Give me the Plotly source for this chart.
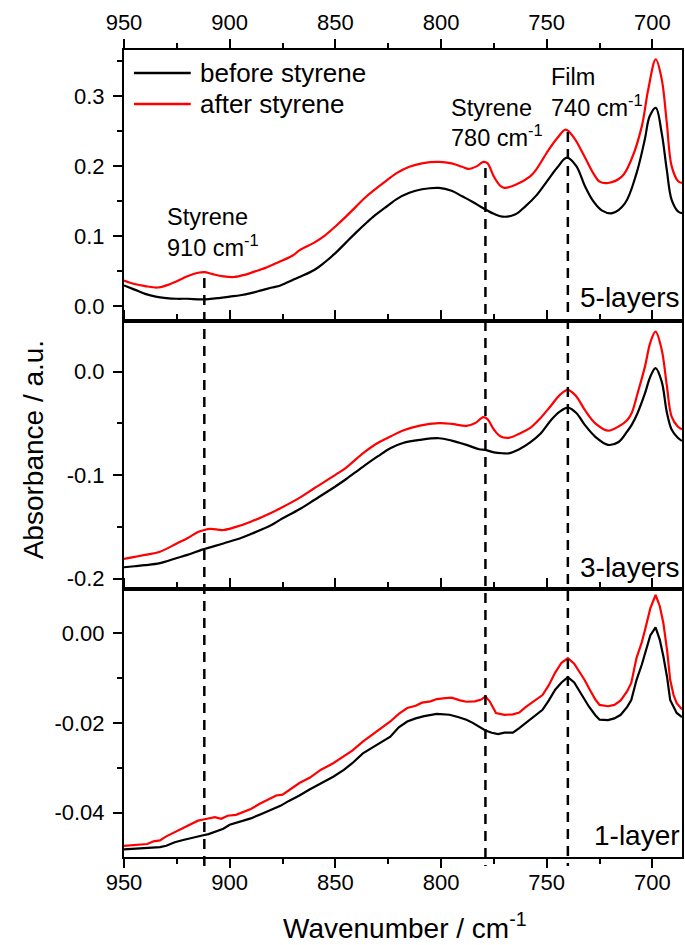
import plotly.graph_objects as go

FONT = "Liberation Sans, Arial, sans-serif"

# ---------------- data ----------------
# Panel: 5-layers
p5_before_wn = [950, 945, 940, 935, 930, 925, 920, 913, 905, 900, 895, 890, 885, 880, 876, 870, 867, 860, 855, 850,
                845, 840, 835, 832, 825, 821, 815, 809, 801, 795, 790, 785, 780, 775, 771, 765, 760, 755, 750, 745,
                740.5, 736, 732, 728, 724, 719, 713, 707.5, 703.6, 701.3, 698.4, 695.6, 693.2, 690.9, 687.7, 686]
p5_before_abs = [0.030, 0.024, 0.018, 0.014, 0.012, 0.011, 0.011, 0.010, 0.012, 0.014, 0.016, 0.019, 0.023, 0.027, 0.030,
                 0.038, 0.042, 0.052, 0.063, 0.076, 0.091, 0.106, 0.120, 0.128, 0.144, 0.153, 0.162, 0.167, 0.169, 0.165,
                 0.157, 0.149, 0.140, 0.132, 0.128, 0.131, 0.143, 0.158, 0.178, 0.198, 0.212, 0.200, 0.172, 0.150, 0.137,
                 0.133, 0.147, 0.190, 0.238, 0.271, 0.283, 0.247, 0.195, 0.152, 0.135, 0.133]
p5_after_wn = [950, 945, 940, 934, 930, 925, 920, 915, 912, 908, 903, 898, 893, 888, 883, 877, 870, 867, 860, 855, 850,
               845, 840, 836, 832, 826, 821, 815, 809, 801, 795, 790, 787, 783, 780, 778, 775, 772, 770, 765, 758, 755,
               750, 745, 741, 737, 732, 728, 725, 721, 714.5, 710, 705, 702, 698.4, 695.6, 693.2, 690.9, 687.7, 686]
p5_after_abs = [0.037, 0.032, 0.029, 0.027, 0.030, 0.036, 0.043, 0.048, 0.049, 0.046, 0.043, 0.042, 0.045, 0.050, 0.055,
                0.063, 0.073, 0.080, 0.091, 0.101, 0.114, 0.128, 0.143, 0.155, 0.165, 0.179, 0.190, 0.199, 0.204, 0.206,
                0.204, 0.199, 0.196, 0.200, 0.206, 0.204, 0.185, 0.172, 0.169, 0.173, 0.185, 0.195, 0.219, 0.240, 0.252,
                0.240, 0.213, 0.190, 0.178, 0.176, 0.185, 0.209, 0.257, 0.309, 0.352, 0.324, 0.262, 0.200, 0.178, 0.176]

# Panel: 3-layers
p3_before_wn = [950, 945, 940, 933, 925, 920, 913, 903, 895, 890, 880, 876, 867, 860, 850, 845, 837, 830, 824, 818,
                810, 801, 795, 788, 782, 779, 775, 771, 768, 763, 758, 753, 748, 744, 740, 736, 732, 727, 721, 716,
                712, 709.8, 707, 703.5, 701, 698.5, 695.6, 693.2, 690.9, 688, 686]
p3_before_abs = [-0.189, -0.188, -0.187, -0.185, -0.180, -0.177, -0.172, -0.166, -0.161, -0.157, -0.148, -0.143, -0.133,
                 -0.124, -0.111, -0.104, -0.092, -0.082, -0.074, -0.069, -0.066, -0.0644, -0.0667, -0.0708, -0.075,
                 -0.0757, -0.078, -0.0789, -0.079, -0.075, -0.0686, -0.060, -0.047, -0.039, -0.0348, -0.040, -0.0515,
                 -0.063, -0.0708, -0.068, -0.058, -0.0515, -0.040, -0.0209, -0.005, 0.0033, -0.0097, -0.039, -0.056,
                 -0.064, -0.067]
p3_after_wn = [950, 945, 940, 933, 925, 920, 915, 912, 909, 903, 897, 890, 880, 876, 867, 860, 850, 845, 837, 830, 824,
               818, 810, 801, 795, 788, 784, 780, 778, 775, 772, 768, 763, 758, 753, 748, 744, 740, 736, 732, 727, 721,
               716, 712, 709.8, 707, 703.5, 701, 698.5, 695.6, 693.2, 690.9, 688, 686]
p3_after_abs = [-0.181, -0.179, -0.177, -0.174, -0.166, -0.161, -0.155, -0.153, -0.152, -0.153, -0.150, -0.145, -0.136,
                -0.132, -0.122, -0.1127, -0.0998, -0.093, -0.079, -0.069, -0.0628, -0.057, -0.0522, -0.0499, -0.0505,
                -0.0525, -0.050, -0.044, -0.046, -0.056, -0.0625, -0.064, -0.060, -0.0547, -0.045, -0.033, -0.023,
                -0.0177, -0.024, -0.037, -0.050, -0.057, -0.053, -0.047, -0.040, -0.021, 0.005, 0.028, 0.0386, 0.021,
                -0.013, -0.0435, -0.053, -0.0557]

# Panel: 1-layer
p1_before_wn = [950, 945, 940, 937.7, 933, 930, 926, 922, 918, 913, 910, 906, 903, 900, 895, 890, 885, 880, 876, 872,
                867, 862, 857, 851, 846, 842, 837, 833, 828, 824, 820, 816, 812, 808, 802, 796, 792, 788, 785, 782, 779,
                776, 773, 770, 766, 763, 760, 756, 752, 749, 746, 743, 740, 737, 735, 732, 730, 727, 725, 721, 718, 715,
                712, 710, 707.5, 705, 703.5, 701, 698.5, 696.5, 694.8, 693, 691.6, 690, 688.5, 686]
p1_before_abs = [-0.0482, -0.0481, -0.0480, -0.0479, -0.0477, -0.0474, -0.0466, -0.0461, -0.0456, -0.0451, -0.0448,
                 -0.0442, -0.0436, -0.0427, -0.0420, -0.0413, -0.0403, -0.0392, -0.0385, -0.0374, -0.0362, -0.0348,
                 -0.0335, -0.0320, -0.0305, -0.0290, -0.0268, -0.0256, -0.0243, -0.0231, -0.0210, -0.0197, -0.0190,
                 -0.0185, -0.0180, -0.0182, -0.0187, -0.0193, -0.0200, -0.0208, -0.0217, -0.0222, -0.0225, -0.0222,
                 -0.0222, -0.0212, -0.0201, -0.0186, -0.0171, -0.0150, -0.0126, -0.0110, -0.0098, -0.0110, -0.0126,
                 -0.0148, -0.0164, -0.0183, -0.0193, -0.0194, -0.0190, -0.0182, -0.0165, -0.0149, -0.0104, -0.0070,
                 -0.0045, -0.0005, 0.0013, -0.0015, -0.0052, -0.0100, -0.0149, -0.0165, -0.0178, -0.0187]
p1_after_wn = [950, 946, 942, 939, 936, 933, 930, 926, 922, 918, 915, 913, 910, 907, 904, 901, 897, 893, 890, 886, 882,
               878, 875, 872, 867, 862, 857, 851, 846, 842, 837, 833, 828, 824, 820, 816, 812, 809, 805, 802, 798, 795,
               791, 788, 784, 781, 779, 777, 774, 770, 766, 763, 760, 756, 752, 749, 746, 743, 740, 737, 735, 732, 730,
               727, 725, 721, 718, 715, 712, 710, 707.5, 705, 703.5, 701, 698.5, 696.5, 694.8, 693, 691.6, 690, 688.5,
               686]
p1_after_abs = [-0.0474, -0.0473, -0.0472, -0.0470, -0.0464, -0.0462, -0.0453, -0.0444, -0.0435, -0.0426, -0.0418,
                -0.0416, -0.0413, -0.0410, -0.0414, -0.0407, -0.0405, -0.0398, -0.0392, -0.0381, -0.0372, -0.0362,
                -0.0360, -0.0350, -0.0334, -0.0322, -0.0305, -0.0290, -0.0275, -0.0262, -0.0242, -0.0228, -0.0212,
                -0.0197, -0.0180, -0.0167, -0.0162, -0.0155, -0.0152, -0.0147, -0.0145, -0.0144, -0.0150, -0.0153,
                -0.0152, -0.0148, -0.0141, -0.0152, -0.0178, -0.0182, -0.0181, -0.0177, -0.0165, -0.0152, -0.0138,
                -0.0116, -0.0088, -0.0066, -0.0056, -0.0068, -0.0082, -0.0105, -0.0123, -0.0148, -0.0160, -0.0163,
                -0.0160, -0.0150, -0.0130, -0.0111, -0.0055, -0.0020, 0.0007, 0.0055, 0.0085, 0.0060, 0.0022, -0.0040,
                -0.0104, -0.0138, -0.0156, -0.0170]

series_names = ["before styrene", "after styrene"]
panel_names = ["5-layers", "3-layers", "1-layer"]

x_tickvals = [950, 900, 850, 800, 750, 700]
x_ticktext = ["950", "900", "850", "800", "750", "700"]
y5_tickvals = [0.0, 0.1, 0.2, 0.3]
y5_ticktext = ["0.0", "0.1", "0.2", "0.3"]
y3_tickvals = [-0.2, -0.1, 0.0]
y3_ticktext = ["-0.2", "-0.1", "0.0"]
y1_tickvals = [-0.04, -0.02, 0.00]
y1_ticktext = ["-0.04", "-0.02", "0.00"]

band_wn = [912, 779, 740]
band_labels = [("Styrene", "910 cm<sup>-1</sup>"), ("Styrene", "780 cm<sup>-1</sup>"), ("Film", "740 cm<sup>-1</sup>")]

# ---------------- layout geometry ----------------
W, H = 685, 945
ML, MR, MT, MB = 124, 1, 50, 88
PW, PH = W - ML - MR, H - MT - MB


def px(xp):
    return (xp - ML) / PW


def py(yp):
    return (H - MB - yp) / PH


d3 = [0, py(588.7)]
d2 = [py(588.7), py(320.5)]
d1 = [py(320.5), 1]

colors = ["black", "#ff0000"]
LW = 2.2

fig = go.Figure()
panels = [
    ("x3", "y3", p5_before_wn, p5_before_abs, p5_after_wn, p5_after_abs, "spline"),
    ("x2", "y2", p3_before_wn, p3_before_abs, p3_after_wn, p3_after_abs, "spline"),
    ("x", "y", p1_before_wn, p1_before_abs, p1_after_wn, p1_after_abs, "linear"),
]
for xa, ya, bw, ba, aw, aa, shape in panels:
    for (wn, ab), name, col in zip([(bw, ba), (aw, aa)], series_names, colors):
        fig.add_trace(go.Scatter(x=wn, y=ab, mode="lines", name=name, showlegend=False,
                                 line=dict(color=col, width=LW, shape=shape, smoothing=1.0),
                                 xaxis=xa, yaxis=ya))

tickfont = dict(family=FONT, size=22, color="black")
xcommon = dict(range=[950, 686], tickmode="array", tickvals=x_tickvals, ticktext=x_ticktext,
               showline=True, linewidth=2, linecolor="black", ticks="outside", ticklen=9, tickwidth=2,
               tickcolor="black", showgrid=False, zeroline=False, tickfont=tickfont,
               minor=dict(dtick=25, tick0=0, ticks="outside", ticklen=5, tickwidth=2, tickcolor="black",
                          showgrid=False))
ycommon = dict(showline=True, linewidth=2, linecolor="black", ticks="outside", ticklen=9, tickwidth=2,
               tickcolor="black", showgrid=False, zeroline=False, tickfont=tickfont, mirror=True,
               tickmode="array", ticklabelstandoff=4)

fig.update_layout(
    width=W, height=H, margin=dict(l=ML, r=MR, t=MT, b=MB),
    paper_bgcolor="white", plot_bgcolor="white", showlegend=False,
    font=dict(family=FONT, color="black"),
    xaxis=dict(xcommon, anchor="y", side="bottom", mirror="ticks", ticklabelstandoff=-4),
    xaxis2=dict(xcommon, anchor="y2", matches="x", side="top", mirror=True, showticklabels=False),
    xaxis3=dict(xcommon, anchor="y3", matches="x", side="top", mirror=True, showticklabels=True),
    yaxis=dict(ycommon, domain=d3, range=[-0.0499, 0.0099], tickvals=y1_tickvals, ticktext=y1_ticktext,
               minor=dict(dtick=0.01, tick0=0, ticks="outside", ticklen=5, tickwidth=2, tickcolor="black")),
    yaxis2=dict(ycommon, domain=d2, range=[-0.2097, 0.0493], tickvals=y3_tickvals, ticktext=y3_ticktext,
                minor=dict(dtick=0.05, tick0=0, ticks="outside", ticklen=5, tickwidth=2, tickcolor="black")),
    yaxis3=dict(ycommon, domain=d1, range=[-0.020, 0.3655], tickvals=y5_tickvals, ticktext=y5_ticktext,
                minor=dict(dtick=0.05, tick0=0, ticks="outside", ticklen=5, tickwidth=2, tickcolor="black")),
)

# dashed band markers
band_tops = [278, 168, 132]
for wn, top in zip(band_wn, band_tops):
    fig.add_shape(type="line", xref="x", yref="paper", x0=wn, x1=wn, y0=py(top), y1=py(866),
                  line=dict(color="black", width=2.5, dash="10px,7px"))

# band labels
label_pos = [(165, 217, 246), (450, 108, 136), (551, 77, 106)]
for (l1, l2), (xp, y1p, y2p) in zip(band_labels, label_pos):
    for txt, yp in [(l1, y1p), (l2, y2p)]:
        fig.add_annotation(text=txt, xref="paper", yref="paper", x=px(xp), y=py(yp), xanchor="left",
                           yanchor="middle", showarrow=False, font=dict(family=FONT, size=23.5, color="black"))

# panel labels
for name, yp in zip(panel_names, [297, 568, 835]):
    fig.add_annotation(text=name, xref="paper", yref="paper", x=px(684), y=py(yp), xanchor="right",
                       yanchor="middle", showarrow=False, font=dict(family=FONT, size=28, color="black"))

# legend (drawn)
for name, col, yp in zip(series_names, colors, [73, 104]):
    fig.add_shape(type="line", xref="paper", yref="paper", x0=px(134), x1=px(191), y0=py(yp), y1=py(yp),
                  line=dict(color=col, width=2.5))
    fig.add_annotation(text=name, xref="paper", yref="paper", x=px(198), y=py(yp), xanchor="left",
                       yanchor="middle", showarrow=False, font=dict(family=FONT, size=26, color="black"))

# axis titles
fig.add_annotation(text="Absorbance / a.u.", xref="paper", yref="paper", x=px(33), y=py(450), textangle=-90,
                   xanchor="center", yanchor="middle", showarrow=False,
                   font=dict(family=FONT, size=28, color="black"))
fig.add_annotation(text="Wavenumber / cm<sup>-1</sup>", xref="paper", yref="paper", x=px(406), y=py(926),
                   xanchor="center", yanchor="middle", showarrow=False,
                   font=dict(family=FONT, size=28, color="black"))

fig.write_html("out.html")
